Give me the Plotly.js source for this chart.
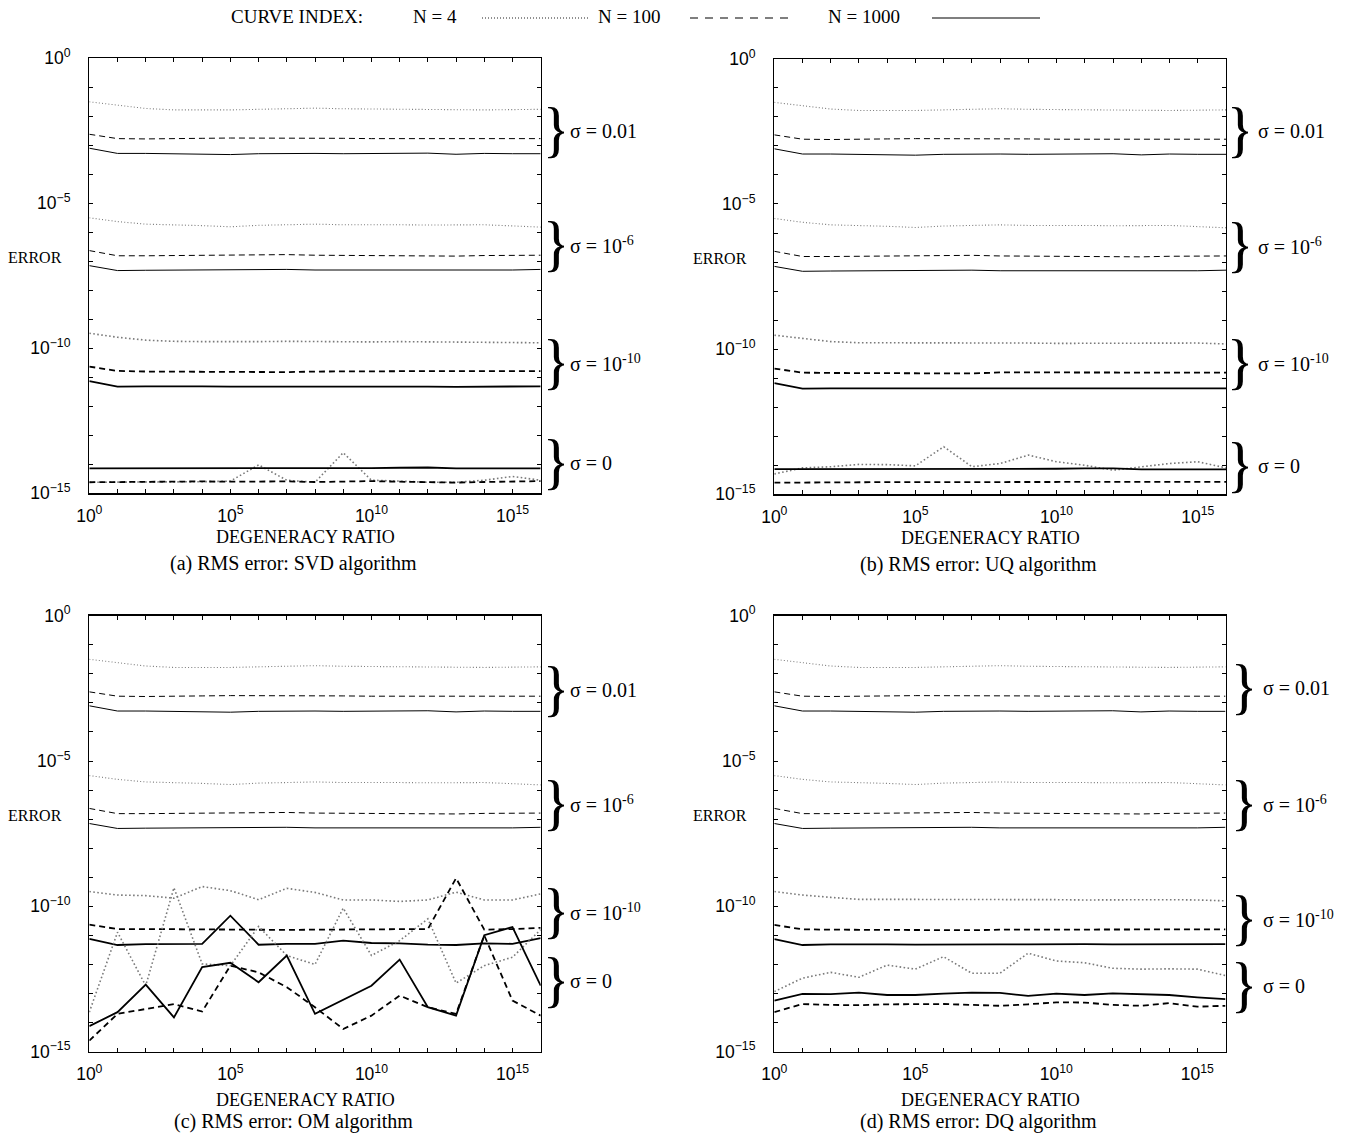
<!DOCTYPE html>
<html>
<head>
<meta charset="utf-8">
<script src="https://cdn.plot.ly/plotly-3.0.1.min.js"></script>
<style>html,body{margin:0;padding:0;background:#fff;}#plot{width:1348px;height:1138px;}</style>
</head>
<body>
<div id="plot"></div>
<script>
// ---------------- DATA ----------------
const degeneracy = [1e0,1e1,1e2,1e3,1e4,1e5,1e6,1e7,1e8,1e9,1e10,1e11,1e12,1e13,1e14,1e15,1e16];
const xTickText = ['10<sup>0</sup>','','','','','10<sup>5</sup>','','','','','10<sup>10</sup>','','','','','10<sup>15</sup>',''];
const yTickVals = [1e0,1e-1,1e-2,1e-3,1e-4,1e-5,1e-6,1e-7,1e-8,1e-9,1e-10,1e-11,1e-12,1e-13,1e-14,1e-15];
const yTickText = ['10<sup>0</sup>','','','','','10<sup>\u22125</sup>','','','','','10<sup>\u221210</sup>','','','','','10<sup>\u221215</sup>'];
const curveNames = ['N = 4','N = 100','N = 1000'];
const sigmaLabels = ['\u03c3 = 0.01','\u03c3 = 10<sup>-6</sup>','\u03c3 = 10<sup>-10</sup>','\u03c3 = 0'];
const panelCaptions = ['(a) RMS error: SVD algorithm','(b) RMS error: UQ algorithm','(c) RMS error: OM algorithm','(d) RMS error: DQ algorithm'];

// sigma = 0.01 and sigma = 1e-6 (same in all four panels)
const s001_N4    = [3.16e-2,2.45e-2,1.86e-2,1.66e-2,1.62e-2,1.66e-2,1.74e-2,1.78e-2,1.91e-2,1.82e-2,1.78e-2,1.78e-2,1.74e-2,1.66e-2,1.66e-2,1.70e-2,1.74e-2];
const s001_N100  = [2.40e-3,1.70e-3,1.66e-3,1.66e-3,1.74e-3,1.78e-3,1.78e-3,1.82e-3,1.78e-3,1.74e-3,1.70e-3,1.70e-3,1.66e-3,1.62e-3,1.66e-3,1.70e-3,1.70e-3];
const s001_N1000 = [7.94e-4,5.25e-4,5.25e-4,5.13e-4,5.01e-4,4.79e-4,5.13e-4,5.25e-4,5.25e-4,5.13e-4,5.13e-4,5.25e-4,5.37e-4,4.90e-4,5.25e-4,5.13e-4,5.13e-4];
const s1e6_N4    = [3.16e-6,2.34e-6,1.91e-6,1.82e-6,1.70e-6,1.55e-6,1.74e-6,1.82e-6,1.91e-6,1.82e-6,1.86e-6,1.82e-6,1.78e-6,1.78e-6,1.82e-6,1.66e-6,1.51e-6];
const s1e6_N100  = [2.34e-7,1.55e-7,1.55e-7,1.58e-7,1.62e-7,1.66e-7,1.70e-7,1.70e-7,1.62e-7,1.58e-7,1.58e-7,1.58e-7,1.55e-7,1.51e-7,1.58e-7,1.62e-7,1.62e-7];
const s1e6_N1000 = [7.08e-8,4.79e-8,4.90e-8,5.01e-8,5.01e-8,5.13e-8,5.13e-8,5.25e-8,5.01e-8,5.01e-8,4.90e-8,4.90e-8,5.01e-8,5.13e-8,5.13e-8,5.01e-8,5.25e-8];

// (a) SVD
const a_s1e10_N4    = [3.31e-10,2.40e-10,1.91e-10,1.74e-10,1.70e-10,1.66e-10,1.70e-10,1.74e-10,1.70e-10,1.66e-10,1.66e-10,1.70e-10,1.66e-10,1.62e-10,1.62e-10,1.58e-10,1.55e-10];
const a_s1e10_N100  = [2.34e-11,1.66e-11,1.58e-11,1.55e-11,1.51e-11,1.51e-11,1.48e-11,1.51e-11,1.58e-11,1.62e-11,1.62e-11,1.62e-11,1.62e-11,1.62e-11,1.62e-11,1.62e-11,1.62e-11];
const a_s1e10_N1000 = [7.41e-12,4.79e-12,4.90e-12,5.01e-12,4.90e-12,4.79e-12,4.79e-12,4.90e-12,4.90e-12,4.79e-12,4.90e-12,5.01e-12,4.79e-12,4.68e-12,4.79e-12,4.90e-12,4.90e-12];
const a_s0_N4    = [2.40e-15,2.40e-15,2.45e-15,2.45e-15,2.51e-15,2.63e-15,9.55e-15,2.82e-15,2.40e-15,2.51e-14,2.82e-15,2.63e-15,2.40e-15,2.40e-15,2.82e-15,3.80e-15,2.82e-15];
const a_s0_N100  = [2.40e-15,2.45e-15,2.51e-15,2.51e-15,2.57e-15,2.51e-15,2.57e-15,2.57e-15,2.45e-15,2.57e-15,2.63e-15,2.51e-15,2.40e-15,2.34e-15,2.45e-15,2.57e-15,2.63e-15];
const a_s0_N1000 = [7.24e-15,7.24e-15,7.41e-15,7.41e-15,7.24e-15,7.08e-15,7.41e-15,7.41e-15,7.24e-15,7.41e-15,7.41e-15,7.59e-15,7.76e-15,7.24e-15,7.08e-15,7.24e-15,7.24e-15];

// (b) UQ
const b_s1e10_N4    = [3.02e-10,2.29e-10,1.82e-10,1.66e-10,1.66e-10,1.62e-10,1.62e-10,1.70e-10,1.66e-10,1.62e-10,1.58e-10,1.58e-10,1.62e-10,1.62e-10,1.66e-10,1.62e-10,1.51e-10];
const b_s1e10_N100  = [2.14e-11,1.55e-11,1.51e-11,1.51e-11,1.48e-11,1.51e-11,1.48e-11,1.45e-11,1.58e-11,1.58e-11,1.58e-11,1.58e-11,1.55e-11,1.55e-11,1.55e-11,1.55e-11,1.55e-11];
const b_s1e10_N1000 = [6.76e-12,4.37e-12,4.47e-12,4.47e-12,4.47e-12,4.37e-12,4.47e-12,4.47e-12,4.47e-12,4.37e-12,4.47e-12,4.47e-12,4.37e-12,4.37e-12,4.47e-12,4.47e-12,4.47e-12];
const b_s0_N4    = [5.01e-15,8.13e-15,8.91e-15,1.07e-14,1.05e-14,9.55e-15,4.37e-14,8.91e-15,1.15e-14,2.24e-14,1.32e-14,1.00e-14,6.76e-15,8.91e-15,1.15e-14,1.32e-14,8.13e-15];
const b_s0_N100  = [2.51e-15,2.57e-15,2.63e-15,2.63e-15,2.63e-15,2.63e-15,2.63e-15,2.69e-15,2.63e-15,2.63e-15,2.63e-15,2.63e-15,2.63e-15,2.63e-15,2.63e-15,2.63e-15,2.69e-15];
const b_s0_N1000 = [7.41e-15,7.41e-15,7.41e-15,7.41e-15,7.24e-15,7.24e-15,7.41e-15,7.41e-15,7.59e-15,7.59e-15,7.59e-15,7.76e-15,7.76e-15,7.24e-15,7.08e-15,7.24e-15,7.24e-15];

// (c) OM
const c_s1e10_N4    = [3.24e-10,2.45e-10,2.34e-10,1.91e-10,4.79e-10,3.47e-10,1.70e-10,4.17e-10,3.02e-10,1.66e-10,1.66e-10,1.48e-10,1.66e-10,3.09e-10,1.66e-10,1.66e-10,2.69e-10];
const c_s1e10_N100  = [2.34e-11,1.66e-11,1.66e-11,1.62e-11,1.62e-11,1.62e-11,1.58e-11,1.55e-11,1.58e-11,1.62e-11,1.58e-11,1.62e-11,1.66e-11,9.33e-10,1.58e-11,1.66e-11,1.82e-11];
const c_s1e10_N1000 = [7.59e-12,4.68e-12,5.01e-12,5.13e-12,5.13e-12,4.79e-11,4.79e-12,5.13e-12,5.13e-12,6.61e-12,5.50e-12,5.37e-12,4.79e-12,4.68e-12,5.37e-12,5.13e-12,8.13e-12];
const c_s0_N4    = [2.29e-14,1.29e-11,1.86e-13,4.37e-10,1.05e-12,9.12e-13,2.04e-11,2.04e-12,1.00e-12,8.71e-11,2.04e-12,6.61e-12,3.72e-11,2.29e-13,9.12e-13,1.78e-12,1.58e-11];
const c_s0_N100  = [2.40e-15,2.00e-14,2.95e-14,4.37e-14,2.40e-14,9.12e-13,5.37e-13,1.66e-13,3.39e-14,6.03e-15,1.74e-14,8.51e-14,3.39e-14,2.00e-14,1.00e-11,5.75e-14,1.74e-14];
const c_s0_N1000 = [7.59e-15,2.29e-14,2.04e-13,1.51e-14,8.13e-13,1.15e-12,2.45e-13,2.04e-12,2.00e-14,6.17e-14,1.86e-13,1.48e-12,3.39e-14,1.74e-14,1.02e-11,1.95e-11,1.86e-13];

// (d) DQ
const d_s1e10_N4    = [3.24e-10,2.45e-10,2.04e-10,1.74e-10,1.74e-10,1.74e-10,1.74e-10,1.78e-10,1.70e-10,1.70e-10,1.70e-10,1.66e-10,1.70e-10,1.70e-10,1.70e-10,1.66e-10,1.55e-10];
const d_s1e10_N100  = [2.29e-11,1.62e-11,1.58e-11,1.55e-11,1.51e-11,1.48e-11,1.48e-11,1.51e-11,1.58e-11,1.58e-11,1.58e-11,1.58e-11,1.58e-11,1.58e-11,1.58e-11,1.62e-11,1.62e-11];
const d_s1e10_N1000 = [7.41e-12,4.68e-12,4.90e-12,5.01e-12,4.90e-12,4.79e-12,4.90e-12,5.01e-12,4.90e-12,4.90e-12,5.01e-12,5.01e-12,4.90e-12,4.90e-12,5.01e-12,5.01e-12,5.01e-12];
const d_s0_N4    = [1.17e-13,3.39e-13,5.37e-13,3.63e-13,9.55e-13,6.92e-13,1.86e-12,5.01e-13,5.01e-13,2.45e-12,1.32e-12,1.15e-12,7.41e-13,6.92e-13,7.08e-13,6.92e-13,4.17e-13];
const d_s0_N100  = [2.29e-14,4.37e-14,4.07e-14,3.98e-14,4.27e-14,4.27e-14,4.37e-14,4.07e-14,3.80e-14,4.27e-14,5.01e-14,4.90e-14,4.07e-14,3.80e-14,4.68e-14,3.55e-14,3.80e-14];
const d_s0_N1000 = [5.75e-14,9.77e-14,9.55e-14,1.07e-13,8.91e-14,8.91e-14,1.00e-13,1.07e-13,1.05e-13,8.32e-14,1.00e-13,8.91e-14,1.02e-13,9.77e-14,8.91e-14,7.41e-14,6.46e-14];

// ---------------- LAYOUT / STYLE ----------------
const W = 1348, H = 1138;
const px = v => v / W;
const py = v => 1 - v / H;
const SERIF = 'Liberation Serif, Times New Roman, serif';
const SANS = 'Liberation Sans, Arial, Helvetica, sans-serif';

const panels = [
  {xa:'x',  ya:'y',  left:89.3, right:540.7, top:58.3, bottom:493.3, titleGap:44,
   groups:[[s001_N4,s001_N100,s001_N1000],[s1e6_N4,s1e6_N100,s1e6_N1000],[a_s1e10_N4,a_s1e10_N100,a_s1e10_N1000],[a_s0_N4,a_s0_N100,a_s0_N1000]],
   braceY:[-2.56,-6.52,-10.58,-14.04], braceX:556, labelX:568},
  {xa:'x2', ya:'y2', left:774.3, right:1226, top:58.8, bottom:494.3, titleGap:44,
   groups:[[s001_N4,s001_N100,s001_N1000],[s1e6_N4,s1e6_N100,s1e6_N1000],[b_s1e10_N4,b_s1e10_N100,b_s1e10_N1000],[b_s0_N4,b_s0_N100,b_s0_N1000]],
   braceY:[-2.56,-6.52,-10.55,-14.08], braceX:1240, labelX:1256},
  {xa:'x3', ya:'y3', left:89.3, right:540.7, top:615.7, bottom:1051.7, titleGap:48,
   groups:[[s001_N4,s001_N100,s001_N1000],[s1e6_N4,s1e6_N100,s1e6_N1000],[c_s1e10_N4,c_s1e10_N100,c_s1e10_N1000],[c_s0_N4,c_s0_N100,c_s0_N1000]],
   braceY:[-2.61,-6.56,-10.25,-12.65], braceX:556, labelX:568},
  {xa:'x4', ya:'y4', left:774.3, right:1225.5, top:615.7, bottom:1051.7, titleGap:48,
   groups:[[s001_N4,s001_N100,s001_N1000],[s1e6_N4,s1e6_N100,s1e6_N1000],[d_s1e10_N4,d_s1e10_N100,d_s1e10_N1000],[d_s0_N4,d_s0_N100,d_s0_N1000]],
   braceY:[-2.55,-6.55,-10.5,-12.82], braceX:1244, labelX:1261}
];

function curveStyle(n, thick) {
  if (n === 0) return {color:'#7a7a7a', width: thick ? 1.6 : 1.1, dash: thick ? '1.6px,2.4px' : '1px,2.2px'};
  if (n === 1) return {color:'#000', width: thick ? 1.8 : 1.0, dash: '6px,4px'};
  return {color:'#000', width: thick ? 1.8 : 1.0, dash: 'solid'};
}

const traces = [];
const annotations = [];
const layout = {
  width: W, height: H,
  margin: {l:0, r:0, t:0, b:0},
  paper_bgcolor: '#fff', plot_bgcolor: '#fff',
  showlegend: false,
  annotations: annotations,
  shapes: []
};

panels.forEach((p, pi) => {
  p.groups.forEach((g, gi) => {
    g.forEach((vals, ni) => {
      traces.push({
        type: 'scatter', mode: 'lines',
        x: degeneracy, y: vals,
        xaxis: p.xa, yaxis: p.ya,
        name: curveNames[ni] + ', ' + sigmaLabels[gi].replace(/<[^>]+>/g,''),
        line: curveStyle(ni, gi >= 2),
        hoverinfo: 'skip'
      });
    });
  });
  const xk = p.xa === 'x' ? 'xaxis' : 'xaxis' + p.xa.slice(1);
  const yk = p.ya === 'y' ? 'yaxis' : 'yaxis' + p.ya.slice(1);
  const common = {
    type: 'log', showgrid: false, zeroline: false,
    showline: true, linecolor: '#000', linewidth: 1.3, mirror: 'allticks',
    ticks: 'inside', ticklen: 4, tickwidth: 1, tickcolor: '#000',
    tickmode: 'array',
    tickfont: {family: SANS, size: 17.5, color: '#000'}
  };
  layout[xk] = Object.assign({}, common, {
    domain: [px(p.left), px(p.right)], range: [0, 16],
    tickvals: degeneracy, ticktext: xTickText,
    anchor: p.ya, ticklabelstandoff: 6
  });
  layout[yk] = Object.assign({}, common, {
    domain: [py(p.bottom), py(p.top)], range: [-15, 0],
    tickvals: yTickVals, ticktext: yTickText,
    anchor: p.xa, ticklabelstandoff: 14
  });
  // braces and sigma labels
  p.braceY.forEach((by, bi) => {
    annotations.push({xref:'paper', yref:p.ya, x:px(p.braceX), y:by, xanchor:'center', yanchor:'middle',
      text:'}', showarrow:false, font:{family:SERIF, size:62, color:'#000'}, yshift:4, borderpad:0, width:16});
    annotations.push({xref:'paper', yref:p.ya, x:px(p.labelX), y:by, xanchor:'left', yanchor:'middle',
      text:sigmaLabels[bi], showarrow:false, font:{family:SERIF, size:20, color:'#000'}, yshift:2});
  });
  // ERROR label
  annotations.push({xref:'paper', yref:p.ya, x:px(p.left - 54), y:-6.88, xanchor:'center', yanchor:'middle',
    text:'ERROR', showarrow:false, font:{family:SERIF, size:16, color:'#000'}});
  // x title and caption
  annotations.push({xref:'paper', yref:'paper', x:px(p.left + 216), y:py(p.bottom + p.titleGap), xanchor:'center', yanchor:'middle',
    text:'DEGENERACY RATIO', showarrow:false, font:{family:SERIF, size:18, color:'#000'}});
  annotations.push({xref:'paper', yref:'paper', x:px(p.left + 204), y:py(p.bottom + 70), xanchor:'center', yanchor:'middle',
    text:panelCaptions[pi], showarrow:false, font:{family:SERIF, size:20, color:'#000'}});
});

// curve index legend at the top
const legY = 16;
annotations.push({xref:'paper', yref:'paper', x:px(229), y:py(legY), xanchor:'left', yanchor:'middle',
  text:'CURVE INDEX:', showarrow:false, font:{family:SERIF, size:19, color:'#000'}});
const legTextX = [411, 596, 826];
const legLine = [[482, 590], [690, 795], [932, 1040]];
const legDash = ['1px,2px', '8px,7px', 'solid'];
const legColor = ['#222', '#000', '#000'];
curveNames.forEach((nm, i) => {
  annotations.push({xref:'paper', yref:'paper', x:px(legTextX[i]), y:py(legY), xanchor:'left', yanchor:'middle',
    text:nm, showarrow:false, font:{family:SERIF, size:19, color:'#000'}});
  layout.shapes.push({type:'line', xref:'paper', yref:'paper',
    x0:px(legLine[i][0]), x1:px(legLine[i][1]), y0:py(legY + 2), y1:py(legY + 2),
    line:{color:legColor[i], width:1.2, dash:legDash[i]}});
});

Plotly.newPlot('plot', traces, layout, {staticPlot: true, displayModeBar: false});
</script>
</body>
</html>
